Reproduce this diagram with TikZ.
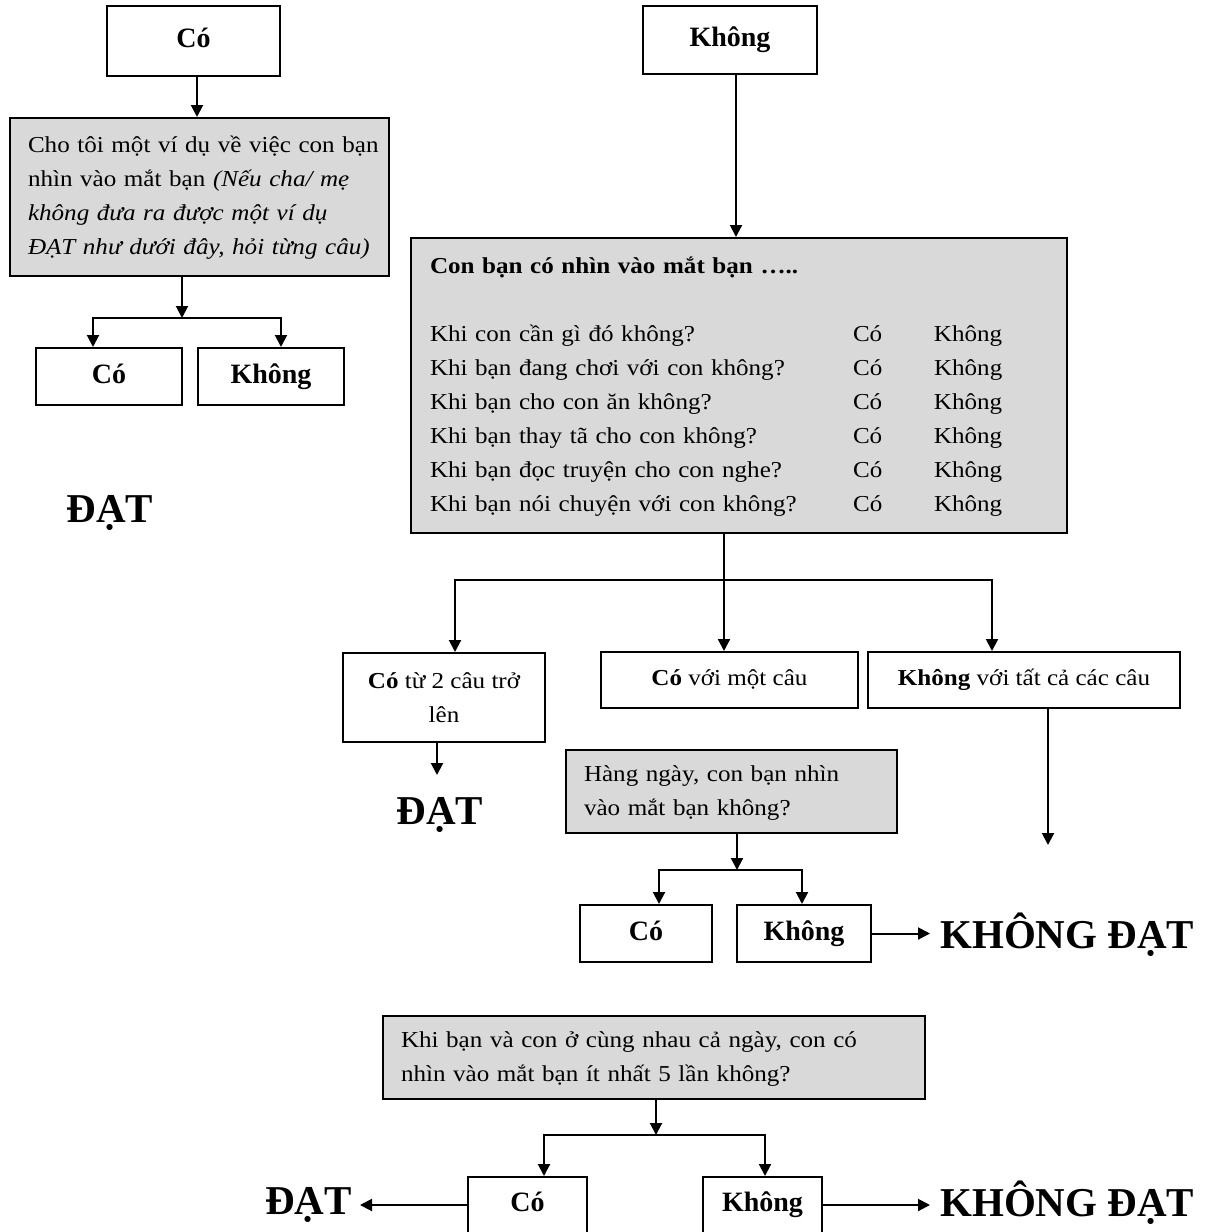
\documentclass[tikz,border=0pt]{standalone}
\usepackage{fontspec}
\setmainfont{Liberation Serif}
\newfontfamily\qfont{Liberation Serif}[FakeStretch=1.1]
\usetikzlibrary{arrows.meta}
\definecolor{qgray}{HTML}{D9D9D9}
\tikzset{
 box/.style={draw, line width=2pt, inner sep=0pt, font=\qfont\fontsize{22.8}{34}\selectfont, align=center},
 onel/.style={text height=17pt, text depth=6pt},
 lbl/.style={draw, line width=2pt, inner sep=0pt, align=center, text height=19pt, text depth=6pt, font=\bfseries\fontsize{28}{34}\selectfont},
 qbox/.style={draw, line width=2pt, fill=qgray, inner xsep=18pt, inner ysep=0pt, align=left, font=\qfont\fontsize{22.8}{34}\selectfont},
 big/.style={font=\bfseries\fontsize{41}{48}\selectfont, inner sep=0pt},
 arr/.style={line width=2pt, -{Triangle[length=12pt,width=12pt]}},
}
\begin{document}
\begin{tikzpicture}[x=1pt,y=-1pt]
\useasboundingbox (0,0) rectangle (1219,1232);
\clip (0,0) rectangle (1219,1232);

% ---------- left column ----------
\node[lbl, minimum width=173pt, minimum height=70pt] (co1) at (193.5,41) {Có};
\node[qbox, minimum width=379pt, minimum height=158pt, text width=343pt] (q1) at (199.5,197)
 {\begin{tabular}{@{}l@{}}Cho tôi một ví dụ về việc con bạn\\ nhìn vào mắt bạn \textit{(Nếu cha/ mẹ}\\ \textit{không đưa ra được một ví dụ}\\ \textit{ĐẠT như dưới đây, hỏi từng câu)}\end{tabular}};
\node[lbl, minimum width=146pt, minimum height=57pt] (a1) at (109,376.5) {Có};
\node[lbl, minimum width=146pt, minimum height=57pt] (b1) at (271,376.5) {Không};
\node[big] (dat1) at (110,513) {ĐẠT};

\draw[arr] ([xshift=3.5pt]co1.south) -- ([xshift=3.5pt]co1.south |- q1.north);
\coordinate (s1) at (182,318);
\draw[arr] (q1.south -| s1) -- (s1);
\draw[arr] (s1) -| ([xshift=-16pt]a1.north);
\draw[arr] (s1) -| ([xshift=10pt]b1.north);

% ---------- right column ----------
\node[lbl, minimum width=174pt, minimum height=68pt] (k1) at (730,40) {Không};
\node[qbox, minimum width=656pt, minimum height=295pt, text width=618pt, inner xsep=19pt] (q2) at (739,385.5)
 {\begin{tabular}{@{}p{423pt}@{}p{81pt}@{}l@{}}
 \multicolumn{3}{@{}l@{}}{\textbf{Con bạn có nhìn vào mắt bạn …..}}\\
 \\
 Khi con cần gì đó không? & Có & Không\\
 Khi bạn đang chơi với con không? & Có & Không\\
 Khi bạn cho con ăn không? & Có & Không\\
 Khi bạn thay tã cho con không? & Có & Không\\
 Khi bạn đọc truyện cho con nghe? & Có & Không\\
 Khi bạn nói chuyện với con không? & Có & Không
 \end{tabular}};
\draw[arr] ([xshift=6pt]k1.south) -- ([xshift=6pt]k1.south |- q2.north);

\node[box, minimum width=202pt, minimum height=89pt] (c1) at (444,697.5) {\textbf{Có} từ 2 câu trở\\lên};
\node[box, onel, minimum width=257pt, minimum height=56pt] (c2) at (729.5,680) {\textbf{Có} với một câu};
\node[box, onel, minimum width=312pt, minimum height=56pt] (c3) at (1024,680) {\textbf{Không} với tất cả các câu};
\coordinate (s2) at (724,580);
\draw[arr] (q2.south -| s2) -- (s2 |- c2.north);
\draw[arr] (s2) -| ([xshift=11pt]c1.north);
\draw[arr] (s2) -| ([xshift=-32pt]c3.north);

\node[big] (dat2) at (440,815) {ĐẠT};
\coordinate (e2) at (437,775);
\draw[arr] (c1.south -| e2) -- (e2);
\coordinate (e3) at (1048,845);
\draw[arr] (c3.south -| e3) -- (e3);

\node[qbox, minimum width=331pt, minimum height=83pt, text width=295pt] (q3) at (731.5,791.5)
 {\begin{tabular}{@{}l@{}}Hàng ngày, con bạn nhìn\\ vào mắt bạn không?\end{tabular}};
\node[lbl, minimum width=132pt, minimum height=57pt] (d1) at (646,933.5) {Có};
\node[lbl, minimum width=134pt, minimum height=57pt] (d2) at (804,933.5) {Không};
\coordinate (s3) at (737,870);
\draw[arr] (q3.south -| s3) -- (s3);
\draw[arr] (s3) -| ([xshift=13pt]d1.north);
\draw[arr] (s3) -| ([xshift=-2pt]d2.north);
\node[big, anchor=west] (kd1) at (940,935) {KHÔNG ĐẠT};
\draw[arr, shorten >=10pt] (d2.east) -- (d2.east -| kd1.west);

% ---------- bottom ----------
\node[qbox, minimum width=542pt, minimum height=83pt, text width=506pt] (q4) at (654,1057.5)
 {\begin{tabular}{@{}l@{}}Khi bạn và con ở cùng nhau cả ngày, con có\\ nhìn vào mắt bạn ít nhất 5 lần không?\end{tabular}};
\node[lbl, minimum width=119pt, minimum height=56pt] (f1) at (527.5,1205) {Có};
\node[lbl, minimum width=119pt, minimum height=56pt] (f2) at (762.5,1205) {Không};
\coordinate (s4) at (656,1135);
\draw[arr] (q4.south -| s4) -- (s4);
\draw[arr] (s4) -| ([xshift=16.5pt]f1.north);
\draw[arr] (s4) -| ([xshift=2.5pt]f2.north);
\node[big, anchor=east] (dat3) at (352,1205) {ĐẠT};
\draw[arr, shorten >=8pt] (f1.west) -- (f1.west -| dat3.east);
\node[big, anchor=west] (kd2) at (940,1203) {KHÔNG ĐẠT};
\draw[arr, shorten >=10pt] (f2.east) -- (f2.east -| kd2.west);
\end{tikzpicture}
\end{document}
